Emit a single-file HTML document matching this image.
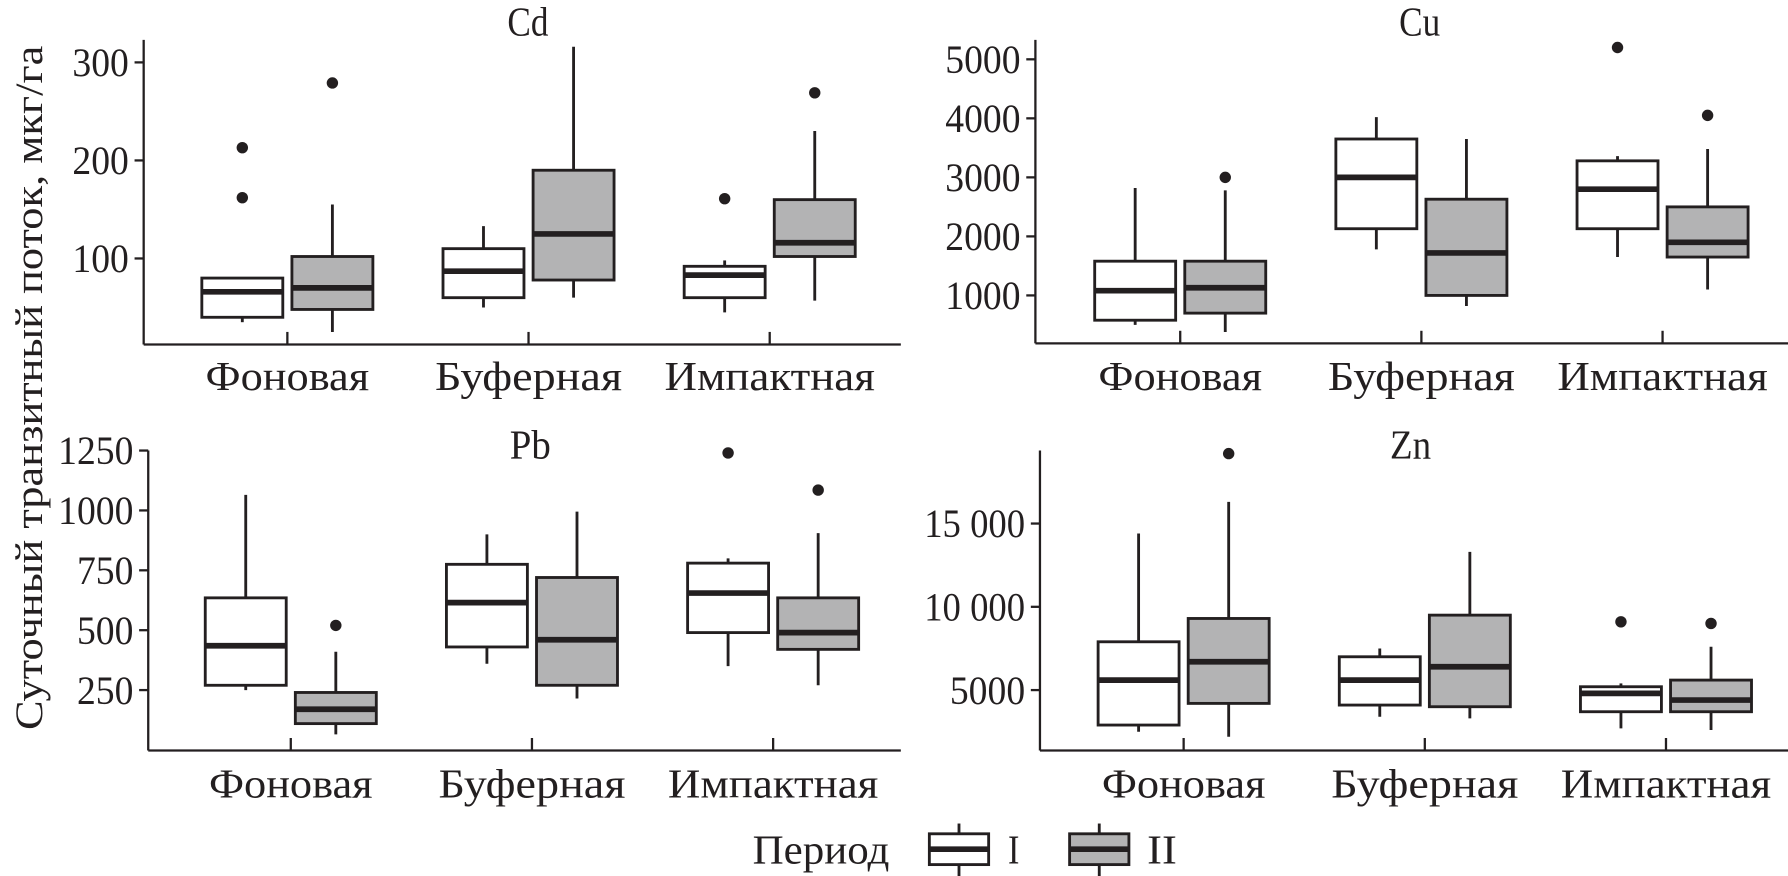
<!DOCTYPE html>
<html><head><meta charset="utf-8">
<style>
html,body{margin:0;padding:0;background:#fff;}
svg{display:block;}
text{font-family:"Liberation Serif",serif;fill:#231f20;}
</style></head>
<body>
<svg id="chart" width="1788" height="876" viewBox="0 0 1568 768" preserveAspectRatio="none" xmlns="http://www.w3.org/2000/svg">
<text transform="translate(37,340) rotate(-90)" text-anchor="middle" font-size="34" textLength="600" lengthAdjust="spacingAndGlyphs">Суточный транзитный поток, мкг/га</text>
<g id="panels"></g>
<g>
  <text x="660" y="757" font-size="36" textLength="120" lengthAdjust="spacingAndGlyphs">Период</text>
  <g>
    <line x1="841" y1="722" x2="841" y2="768" stroke="#231f20" stroke-width="2.5"/>
    <rect x="815" y="731" width="52" height="27" fill="#fff" stroke="#231f20" stroke-width="2.5"/>
    <line x1="815" y1="744.5" x2="867" y2="744.5" stroke="#231f20" stroke-width="5"/>
    <text x="884" y="757" font-size="36" textLength="10" lengthAdjust="spacingAndGlyphs">I</text>
  </g>
  <g>
    <line x1="964" y1="722" x2="964" y2="768" stroke="#231f20" stroke-width="2.5"/>
    <rect x="938" y="731" width="52" height="27" fill="#b3b3b4" stroke="#231f20" stroke-width="2.5"/>
    <line x1="938" y1="744.5" x2="990" y2="744.5" stroke="#231f20" stroke-width="5"/>
    <text x="1006" y="757" font-size="36" textLength="26" lengthAdjust="spacingAndGlyphs">II</text>
  </g>
</g>
</svg>
<script>
// categories and tick labels
const categories = ["Фоновая", "Буферная", "Импактная"];
const cdTicks = [100, 200, 300];
const cuTicks = [1000, 2000, 3000, 4000, 5000];
const pbTicks = [250, 500, 750, 1000, 1250];
const znTicks = [5000, 10000, 15000];
const znTickLabels = ["5000", "10 000", "15 000"];
// each box: [whiskerLow, q1, median, q3, whiskerHigh]; period I then II per category
const cdPeriodI  = [[35,40,66,80,80],[50,60,87,110,133],[45,60,83,92,98]];
const cdPeriodII = [[25,48,70,102,155],[60,78,125,190,316],[57,102,116,160,230]];
const cdOutliersI  = [[213,162],[],[161]];
const cdOutliersII = [[279],[],[269]];
const cuPeriodI  = [[500,580,1080,1580,2820],[1780,2130,3000,3650,4020],[1650,2130,2800,3280,3360]];
const cuPeriodII = [[380,700,1130,1580,2780],[820,1000,1720,2630,3650],[1100,1650,1900,2500,3480]];
const cuOutliersI  = [[],[],[5200]];
const cuOutliersII = [[3000],[],[4050]];
const pbPeriodI  = [[250,270,435,635,1065],[360,430,615,775,900],[350,490,655,780,800]];
const pbPeriodII = [[65,110,170,240,410],[215,270,460,720,995],[270,420,490,635,905]];
const pbOutliersI  = [[],[],[1240]];
const pbOutliersII = [[520],[],[1085]];
const znPeriodI  = [[2500,2900,5600,7900,14400],[3400,4100,5600,7000,7500],[2700,3700,4800,5200,5400]];
const znPeriodII = [[2200,4200,6700,9300,16300],[3300,4000,6400,9500,13300],[2600,3700,4400,5600,7600]];
const znOutliersI  = [[],[],[9100]];
const znOutliersII = [[19200],[],[9000]];

const NS = "http://www.w3.org/2000/svg";
const root = document.getElementById("panels");
function mk(tag, attrs, parent){
  const e = document.createElementNS(NS, tag);
  for (const k in attrs) e.setAttribute(k, attrs[k]);
  parent.appendChild(e);
  return e;
}
const INK = "#231f20";
const layouts = [
  {name:"cd", title:"Cd", ax:126, top:35, bottom:302, right:790, titleX:463, titleY:31, labelY:342, cat0:252,
   ref:[100,226.6], ref2:[300,54.7], ticks:cdTicks, tl:cdTicks.map(String),
   I:cdPeriodI, II:cdPeriodII, oI:cdOutliersI, oII:cdOutliersII},
  {name:"cu", title:"Cu", ax:908, top:35, bottom:301, right:1568, titleX:1245, titleY:31, labelY:342, cat0:1035,
   ref:[1000,259], ref2:[5000,52], ticks:cuTicks, tl:cuTicks.map(String),
   I:cuPeriodI, II:cuPeriodII, oI:cuOutliersI, oII:cuOutliersII},
  {name:"pb", title:"Pb", ax:130, top:395, bottom:658, right:790, titleX:465, titleY:402, labelY:699, cat0:255,
   ref:[250,605], ref2:[1250,395], ticks:pbTicks, tl:pbTicks.map(String),
   I:pbPeriodI, II:pbPeriodII, oI:pbOutliersI, oII:pbOutliersII},
  {name:"zn", title:"Zn", ax:912, top:395, bottom:658, right:1568, titleX:1237, titleY:402, labelY:699, cat0:1038,
   ref:[5000,605], ref2:[15000,459], ticks:znTicks, tl:znTickLabels,
   I:znPeriodI, II:znPeriodII, oI:znOutliersI, oII:znOutliersII}
];
const catStep = 211.5, boxW = 71, boxOff = 39.5;

layouts.forEach(p => {
  const g = mk("g", {}, root);
  
  
  const k = (p.ref2[1]-p.ref[1])/(p.ref2[0]-p.ref[0]);
  const y = v => p.ref[1] + (v - p.ref[0]) * k;
  const xc = i => p.cat0 + i * catStep;

  const t = mk("text", {x:p.titleX, y:p.titleY, "text-anchor":"middle", "font-size":36, textLength:p.title.length*18, lengthAdjust:"spacingAndGlyphs"}, g);
  t.textContent = p.title;
  
  

  const yl = mk("line", {x1:p.ax, y1:p.top, x2:p.ax, y2:p.bottom, stroke:INK, "stroke-width":2}, g);
  
  
  const xl = mk("line", {x1:p.ax, y1:p.bottom, x2:p.right, y2:p.bottom, stroke:INK, "stroke-width":2}, g);
  
  

  p.ticks.forEach((v, i) => {
    mk("line", {x1:p.ax-8, y1:y(v), x2:p.ax, y2:y(v), stroke:INK, "stroke-width":2}, g);
    const lab = p.tl[i];
    const tx = mk("text", {x:p.ax-13, y:y(v)+12, "text-anchor":"end", "font-size":35, textLength:lab.replace(' ','').length*16.5 + (lab.includes(' ')?6:0), lengthAdjust:"spacingAndGlyphs"}, g);
    tx.textContent = lab;
    
    
  });

  categories.forEach((c, i) => {
    mk("line", {x1:xc(i), y1:p.bottom-11, x2:xc(i), y2:p.bottom, stroke:INK, "stroke-width":2}, g);
    const lb = mk("text", {x:xc(i), y:p.labelY, "text-anchor":"middle", "font-size":36, textLength:c.length*20.5, lengthAdjust:"spacingAndGlyphs"}, g);
    lb.textContent = c;
    
    

    [[p.I[i], p.oI[i], -boxOff, "#ffffff", "i"], [p.II[i], p.oII[i], boxOff, "#b3b3b4", "ii"]].forEach(([s, outs, off, fill, per]) => {
      const cx = xc(i) + off;
      const bg = mk("g", {}, g);
      
      
      mk("line", {x1:cx, y1:y(s[0]), x2:cx, y2:y(s[4]), stroke:INK, "stroke-width":2.5}, bg);
      mk("rect", {x:cx-boxW/2, y:y(s[3]), width:boxW, height:y(s[1])-y(s[3]), fill:fill, stroke:INK, "stroke-width":2.5}, bg);
      mk("line", {x1:cx-boxW/2, y1:y(s[2]), x2:cx+boxW/2, y2:y(s[2]), stroke:INK, "stroke-width":5}, bg);
      outs.forEach(o => {
        const d = mk("circle", {cx:cx, cy:y(o), r:5, fill:INK}, bg);
        
        
      });
    });
  });
});
</script>
</body></html>
